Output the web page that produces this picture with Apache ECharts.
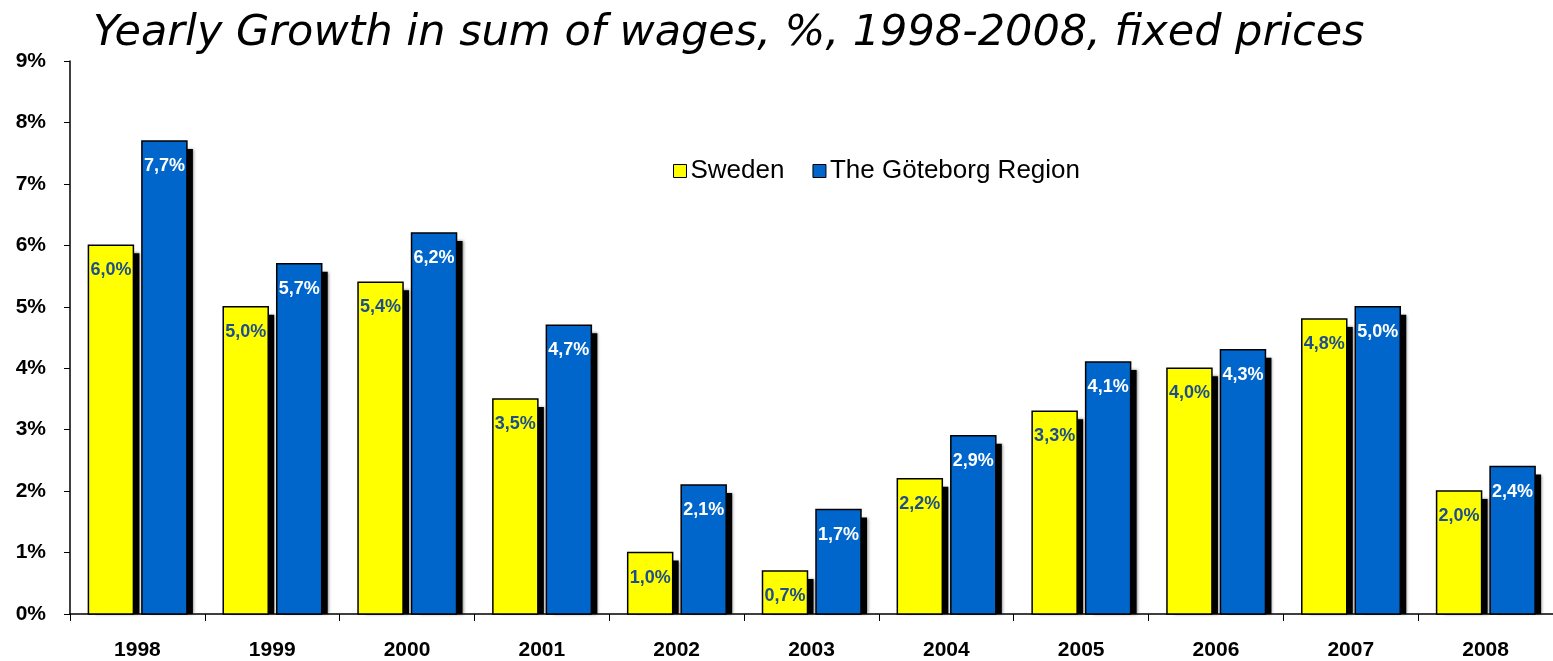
<!DOCTYPE html>
<html>
<head>
<meta charset="utf-8">
<script src="https://cdn.jsdelivr.net/npm/echarts@6/dist/echarts.min.js"></script>
<style>
  html, body { margin: 0; padding: 0; background: #fff; }
  #main { width: 1553px; height: 661px; }
</style>
</head>
<body>
<div id="main"></div>
<script>
var years = ['1998', '1999', '2000', '2001', '2002', '2003', '2004', '2005', '2006', '2007', '2008'];
var sweden = [6.0, 5.0, 5.4, 3.5, 1.0, 0.7, 2.2, 3.3, 4.0, 4.8, 2.0];
var goteborg = [7.7, 5.7, 6.2, 4.7, 2.1, 1.7, 2.9, 4.1, 4.3, 5.0, 2.4];

var chart = echarts.init(document.getElementById('main'));

function pct(v) {
    return v.toFixed(1).replace('.', ',') + '%';
}

// bar with black drop shadow, drawn through the axis scales
function makeRender(offset, fill, labelColor) {
    return function (params, api) {
        var i = api.value(0);
        var v = api.value(1);
        var top = api.coord([i, v]);
        var zero = api.coord([i, 0]);
        var w = 45;
        var x = top[0] + offset - w / 2;
        var h = zero[1] - top[1];
        return {
            type: 'group',
            children: [
                {
                    type: 'rect',
                    shape: { x: x + 6, y: top[1] + 8, width: w, height: Math.max(h - 8, 0) },
                    style: { fill: '#000', shadowColor: 'rgba(0,0,0,0.5)', shadowBlur: 3, shadowOffsetX: 1 }
                },
                {
                    type: 'rect',
                    shape: { x: x, y: top[1], width: w, height: h },
                    style: { fill: fill, stroke: '#000', lineWidth: 1.5 }
                },
                {
                    type: 'text',
                    x: x + w / 2,
                    y: top[1] + 25,
                    style: {
                        text: pct(v),
                        align: 'center',
                        verticalAlign: 'middle',
                        fill: labelColor,
                        font: 'bold 18px "Liberation Sans"'
                    }
                }
            ]
        };
    };
}

var option = {
    animation: false,
    title: {
        text: 'Yearly Growth in sum of wages, %, 1998-2008, fixed prices',
        left: 88,
        top: 7,
        textStyle: {
            fontFamily: 'DejaVu Sans',
            fontStyle: 'italic',
            fontWeight: 'normal',
            fontSize: 43,
            color: '#000'
        }
    },
    legend: {
        data: ['Sweden', 'The Göteborg Region'],
        left: 668,
        top: 153,
        itemWidth: 13,
        itemHeight: 13,
        itemGap: 28,
        icon: 'rect',
        itemStyle: { borderColor: '#000', borderWidth: 1 },
        textStyle: { fontFamily: 'Liberation Sans', fontSize: 26, color: '#000', padding: [0, 0, 0, -1] }
    },
    grid: { left: 70, right: -13, top: 61, bottom: 46, containLabel: false },
    xAxis: {
        type: 'category',
        data: years,
        axisLine: { lineStyle: { color: '#000', width: 1.5 } },
        axisTick: { show: true, length: 7, lineStyle: { color: '#000' } },
        axisLabel: {
            fontFamily: 'Liberation Sans',
            fontWeight: 'bold',
            fontSize: 21,
            color: '#000',
            margin: 26
        }
    },
    yAxis: {
        type: 'value',
        min: 0,
        max: 9,
        interval: 1,
        axisLine: { show: true, lineStyle: { color: '#000', width: 1.5 } },
        axisTick: { show: true, inside: false, length: 6, lineStyle: { color: '#000' } },
        splitLine: { show: false },
        axisLabel: {
            formatter: '{value}%',
            fontFamily: 'Liberation Sans',
            fontWeight: 'bold',
            fontSize: 21,
            color: '#000',
            margin: 24
        }
    },
    series: [
        {
            name: 'Sweden',
            type: 'custom',
            data: sweden.map(function (v, i) { return [i, v]; }),
            encode: { x: 0, y: 1 },
            itemStyle: { color: '#ffff00' },
            renderItem: makeRender(-26.5, '#ffff00', '#1f4e8c')
        },
        {
            name: 'The Göteborg Region',
            type: 'custom',
            data: goteborg.map(function (v, i) { return [i, v]; }),
            encode: { x: 0, y: 1 },
            itemStyle: { color: '#0066cc' },
            renderItem: makeRender(27, '#0066cc', '#ffffff')
        }
    ]
};

chart.setOption(option);
</script>
</body>
</html>
